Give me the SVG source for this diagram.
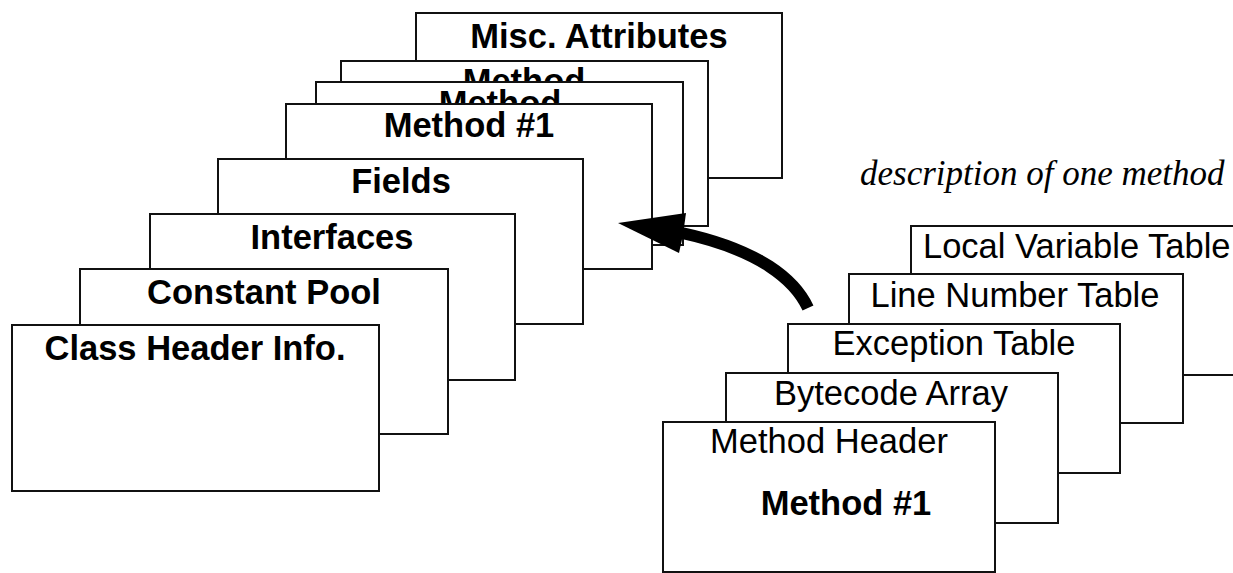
<svg xmlns="http://www.w3.org/2000/svg" width="1233" height="573" viewBox="0 0 1233 573">
<style>
.box{fill:#fff;stroke:#111;stroke-width:2}
.lb{font-family:"Liberation Sans",Arial,sans-serif;font-weight:bold;font-size:34.5px;fill:#000;text-anchor:middle}
.lr{font-family:"Liberation Sans",Arial,sans-serif;font-size:34.5px;fill:#000;text-anchor:middle}
.desc{font-family:"Liberation Serif","Times New Roman",serif;font-style:italic;font-size:35px;fill:#000}
</style>
<rect width="1233" height="573" fill="#fff"/>
<g id="misc-attributes"><rect class="box" x="416" y="13" width="366" height="165"/><text class="lb" x="599" y="48">Misc. Attributes</text></g>
<g id="method-n2"><rect class="box" x="341" y="61" width="367" height="165"/><text class="lb" x="524" y="93">Method</text></g>
<g id="method-n1"><rect class="box" x="316" y="82" width="367" height="163"/><text class="lb" x="500" y="115">Method</text></g>
<g id="method-1"><rect class="box" x="286" y="104" width="366" height="165"/><text class="lb" x="469" y="137">Method #1</text></g>
<g id="fields"><rect class="box" x="218" y="159" width="365" height="165"/><text class="lb" x="401" y="193">Fields</text></g>
<g id="interfaces"><rect class="box" x="150" y="214" width="365" height="166"/><text class="lb" x="332" y="249">Interfaces</text></g>
<g id="constant-pool"><rect class="box" x="80" y="269" width="368" height="165"/><text class="lb" x="264" y="304">Constant Pool</text></g>
<g id="class-header"><rect class="box" x="12" y="325" width="367" height="166"/><text class="lb" x="195" y="360">Class Header Info.</text></g>
<g id="description"><text class="desc" x="860" y="185">description of one method</text></g>
<g id="local-variable-table"><rect class="box" x="911" y="226" width="340" height="149"/><text class="lr" x="923" y="258" style="text-anchor:start">Local Variable Table</text></g>
<g id="line-number-table"><rect class="box" x="849" y="274" width="334" height="149"/><text class="lr" x="1015" y="307">Line Number Table</text></g>
<g id="exception-table"><rect class="box" x="788" y="324" width="332" height="149"/><text class="lr" x="954" y="355">Exception Table</text></g>
<g id="bytecode-array"><rect class="box" x="726" y="373" width="332" height="150"/><text class="lr" x="891" y="405">Bytecode Array</text></g>
<g id="method-header"><rect class="box" x="663" y="422" width="332" height="150"/><text class="lr" x="829" y="453">Method Header</text><text class="lb" x="846" y="515">Method #1</text></g>
<g id="connectors">
<path d="M808 308 C795 280 760 250 682 233" fill="none" stroke="#000" stroke-width="12"/>
<polygon points="618,223 686,213 683,235 679,253" fill="#000"/>
</g>
</svg>
